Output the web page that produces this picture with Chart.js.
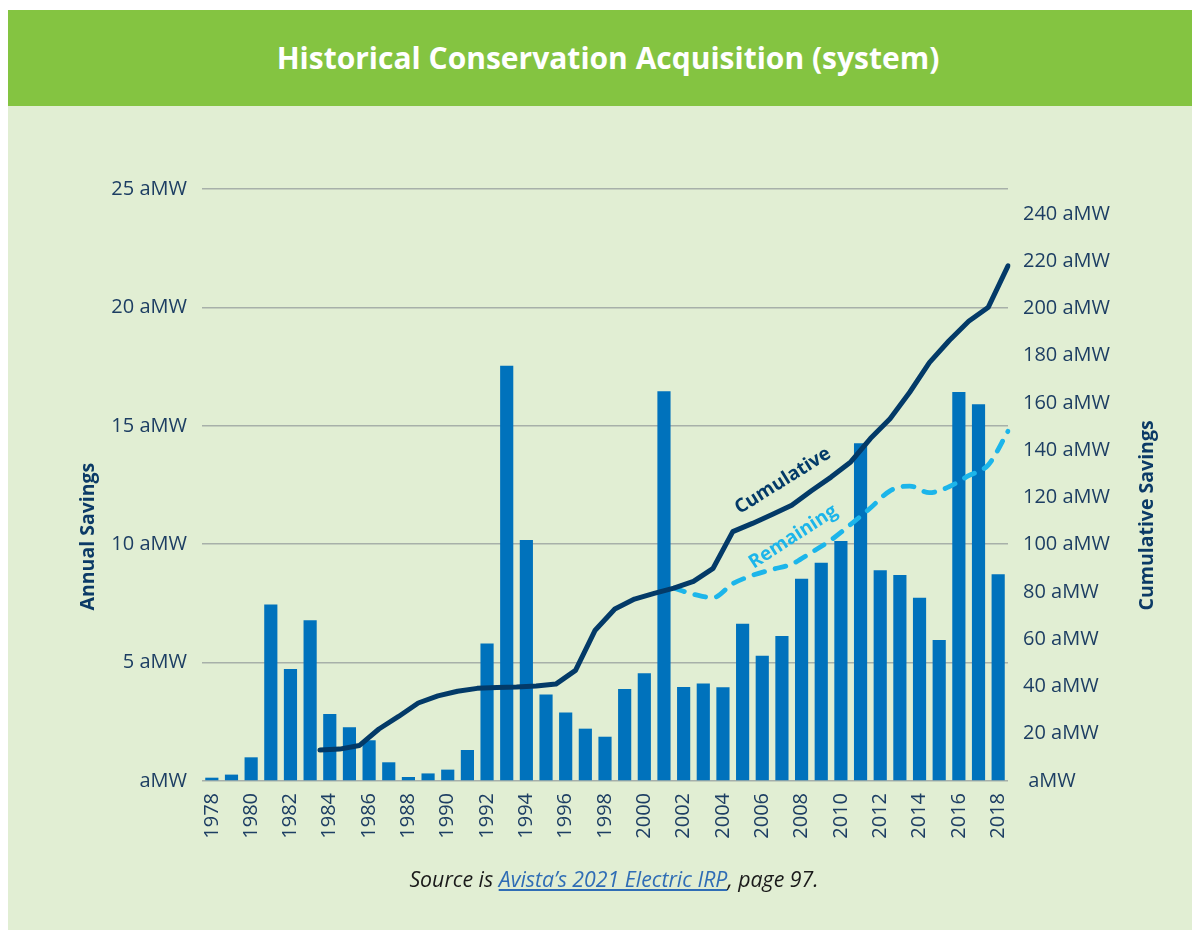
<!DOCTYPE html>
<html>
<head>
<meta charset="utf-8">
<title>Historical Conservation Acquisition (system)</title>
<script src="https://cdn.jsdelivr.net/npm/chart.js@4.4.1/dist/chart.umd.min.js"></script>
<style>
  html, body { margin: 0; padding: 0; width: 1192px; height: 933px; background: #ffffff; overflow: hidden; font-family: "Open Sans", sans-serif; }
  #panel { position: absolute; left: 8px; top: 10px; width: 1184px; height: 920px; background: #e1eed3; }
  #header { position: absolute; left: 8px; top: 10px; width: 1184px; height: 96px; background: #84c441; }
  #header h1 { margin: 0; width: 1184px; padding-left: 16px; box-sizing: border-box; text-align: center; line-height: 96px; color: #ffffff; font-size: 30px; font-weight: 700; }
  #chartBox { position: absolute; left: 0; top: 0; width: 1192px; height: 870px; }
  #source { position: absolute; left: 18px; width: 1192px; top: 864px; text-align: center; font-style: italic; font-size: 21.3px; color: #1a1a1a; }
  #source a { color: #2f6db5; text-decoration: underline; }
</style>
</head>
<body>
<div id="panel"></div>
<div id="header"><h1>Historical Conservation Acquisition (system)</h1></div>
<div id="chartBox"><canvas id="chart" width="1192" height="870"></canvas></div>
<div id="source">Source is <a href="#">Avista’s 2021 Electric IRP</a>, page 97.</div>
<script>
// Years shown as bars (annual savings, aMW)
const years = ['1978','1979','1980','1981','1982','1983','1984','1985','1986','1987',
  '1988','1989','1990','1991','1992','1993','1994','1995','1996','1997','1998','1999',
  '2000','2001','2002','2003','2004','2005','2006','2007','2008','2009','2010','2011',
  '2012','2013','2014','2015','2016','2017','2018'];

const annualSavings = [0.14, 0.27, 1.0, 7.45, 4.73, 6.79, 2.83, 2.27, 1.72, 0.79,
  0.17, 0.32, 0.48, 1.31, 5.81, 17.54, 10.18, 3.65, 2.89, 2.21, 1.87, 3.89,
  4.55, 16.46, 3.97, 4.12, 3.96, 6.64, 5.29, 6.12, 8.54, 9.22, 10.14, 14.26,
  8.90, 8.70, 7.74, 5.95, 16.43, 15.91, 8.73];

// Year-end positions used by the two lines (1977 = start of the first year)
const yearEnds = ['1977','1978','1979','1980','1981','1982','1983','1984','1985','1986',
  '1987','1988','1989','1990','1991','1992','1993','1994','1995','1996','1997','1998',
  '1999','2000','2001','2002','2003','2004','2005','2006','2007','2008','2009','2010',
  '2011','2012','2013','2014','2015','2016','2017','2018'];

// Cumulative savings at each year end, aMW
const cumulativeYears = ['1983','1984','1985','1986','1987','1988','1989','1990','1991',
  '1992','1993','1994','1995','1996','1997','1998','1999','2000','2001','2002','2003',
  '2004','2005','2006','2007','2008','2009','2010','2011','2012','2013','2014','2015',
  '2016','2017','2018'];
const cumulativeSavings = [13.1, 13.5, 15.0, 22.0, 27.3, 33.0, 36.0, 38.0, 39.2,
  39.6, 39.8, 40.2, 41.0, 46.8, 63.8, 72.8, 77.0, 79.4, 81.6, 84.5, 90.0,
  105.5, 109.0, 112.8, 116.7, 122.8, 128.6, 135.0, 144.9, 153.3, 164.5, 177.0, 186.3,
  194.5, 200.5, 218.0];

// Remaining savings, aMW
const remainingYears = ['2001','2002','2003','2004','2005','2006','2007','2008','2009',
  '2010','2011','2012','2013','2014','2015','2016','2017','2018'];
const remainingSavings = [81.6, 79.0, 77.6, 83.5, 87.0, 89.5, 91.8, 96.7, 102.0,
  108.6, 115.5, 122.8, 124.8, 122.0, 124.5, 129.2, 133.8, 148.0];

// Axis ticks
const annualTicks = [0, 5, 10, 15, 20, 25];
const cumulativeTicks = [0, 20, 40, 60, 80, 100, 120, 140, 160, 180, 200, 220, 240];

const navy = '#0b3a66';
const tickColor = '#1d3e63';
const barBlue = '#0072bc';
const lineNavy = '#033a68';
const lightBlue = '#1cb5ea';

// Rotated text: labels along the two lines and the two axis titles
const extraText = {
  id: 'extraText',
  afterDatasetsDraw(chart) {
    const { ctx, scales } = chart;
    const items = [
      { text: 'Cumulative', idx: 29.55, value: 127, angle: -32, color: lineNavy },
      { text: 'Remaining', idx: 30.08, value: 103.3, angle: -33, color: lightBlue }
    ];
    ctx.save();
    ctx.font = 'bold 19px "Open Sans", sans-serif';
    ctx.textAlign = 'center';
    ctx.textBaseline = 'middle';
    items.forEach(it => {
      const px = scales.x2.getPixelForValue(it.idx);
      const py = scales.y2.getPixelForValue(it.value);
      ctx.save();
      ctx.translate(px, py);
      ctx.rotate(it.angle * Math.PI / 180);
      ctx.fillStyle = it.color;
      ctx.fillText(it.text, 0, 0);
      ctx.restore();
    });

    // Axis titles, reading upward, both starting at the same height
    const titleBase = scales.y.getPixelForValue(7.2);
    ctx.font = 'bold 19.5px "Open Sans", sans-serif';
    ctx.textAlign = 'left';
    ctx.fillStyle = navy;
    [[scales.y.left + 88, 'Annual Savings'], [scales.y2.right - 45, 'Cumulative Savings']].forEach(([x, t]) => {
      ctx.save();
      ctx.translate(x, titleBase);
      ctx.rotate(-Math.PI / 2);
      ctx.fillText(t, 0, 0);
      ctx.restore();
    });
    ctx.restore();
  }
};

const tickFont = { family: '"Open Sans", sans-serif', size: 20 };

new Chart(document.getElementById('chart'), {
  data: {
    labels: years,
    datasets: [
      {
        type: 'line',
        label: 'Cumulative',
        data: cumulativeYears.map((y, i) => ({ x: y, y: cumulativeSavings[i] })),
        xAxisID: 'x2',
        yAxisID: 'y2',
        borderColor: lineNavy,
        borderWidth: 5,
        pointRadius: 0,
        tension: 0,
        borderCapStyle: 'round',
        borderJoinStyle: 'round',
        order: 0
      },
      {
        type: 'line',
        label: 'Remaining',
        data: remainingYears.map((y, i) => ({ x: y, y: remainingSavings[i] })),
        xAxisID: 'x2',
        yAxisID: 'y2',
        borderColor: lightBlue,
        borderWidth: 4.8,
        borderDash: [11, 11],
        borderCapStyle: 'round',
        borderJoinStyle: 'round',
        pointRadius: 0,
        cubicInterpolationMode: 'monotone',
        order: 1
      },
      {
        type: 'bar',
        label: 'Annual Savings',
        data: annualSavings,
        xAxisID: 'x',
        yAxisID: 'y',
        backgroundColor: barBlue,
        borderWidth: 0,
        grouped: false,
        categoryPercentage: 1,
        barPercentage: 0.67,
        order: 2
      }
    ]
  },
  options: {
    responsive: false,
    animation: false,
    layout: { padding: { top: 189, left: 0, right: 0, bottom: 0 } },
    plugins: { legend: { display: false }, tooltip: { enabled: false } },
    scales: {
      x: {
        type: 'category',
        position: 'bottom',
        offset: true,
        grid: { display: false, drawTicks: false },
        border: { display: false },
        ticks: {
          color: tickColor,
          font: tickFont,
          autoSkip: false,
          minRotation: 90,
          maxRotation: 90,
          padding: 12,
          callback(value, index) {
            return index % 2 === 0 ? years[index] : '';
          }
        },
        afterFit(scale) { scale.height = 89; }
      },
      x2: {
        type: 'category',
        axis: 'x',
        position: 'bottom',
        labels: yearEnds,
        offset: false,
        display: false
      },
      y: {
        type: 'linear',
        position: 'left',
        min: 0,
        max: 25,
        afterBuildTicks(scale) { scale.ticks = annualTicks.map(v => ({ value: v })); },
        grid: { color: '#a7b0a9', lineWidth: 1.5, drawTicks: false },
        border: { display: false },
        ticks: {
          color: tickColor,
          font: tickFont,
          padding: 15,
          callback(v) { return v === 0 ? 'aMW' : v + ' aMW'; }
        },
        afterFit(scale) { scale.width = 202; }
      },
      y2: {
        type: 'linear',
        position: 'right',
        min: 0,
        max: 250.5,
        afterBuildTicks(scale) { scale.ticks = cumulativeTicks.map(v => ({ value: v })); },
        grid: { display: false, drawTicks: false },
        border: { display: false },
        ticks: {
          color: tickColor,
          font: tickFont,
          padding: 15,
          callback(v) { return v === 0 ? ' aMW' : v + ' aMW'; }
        },
        afterFit(scale) { scale.width = 184; }
      }
    }
  },
  plugins: [extraText]
});
</script>
</body>
</html>
